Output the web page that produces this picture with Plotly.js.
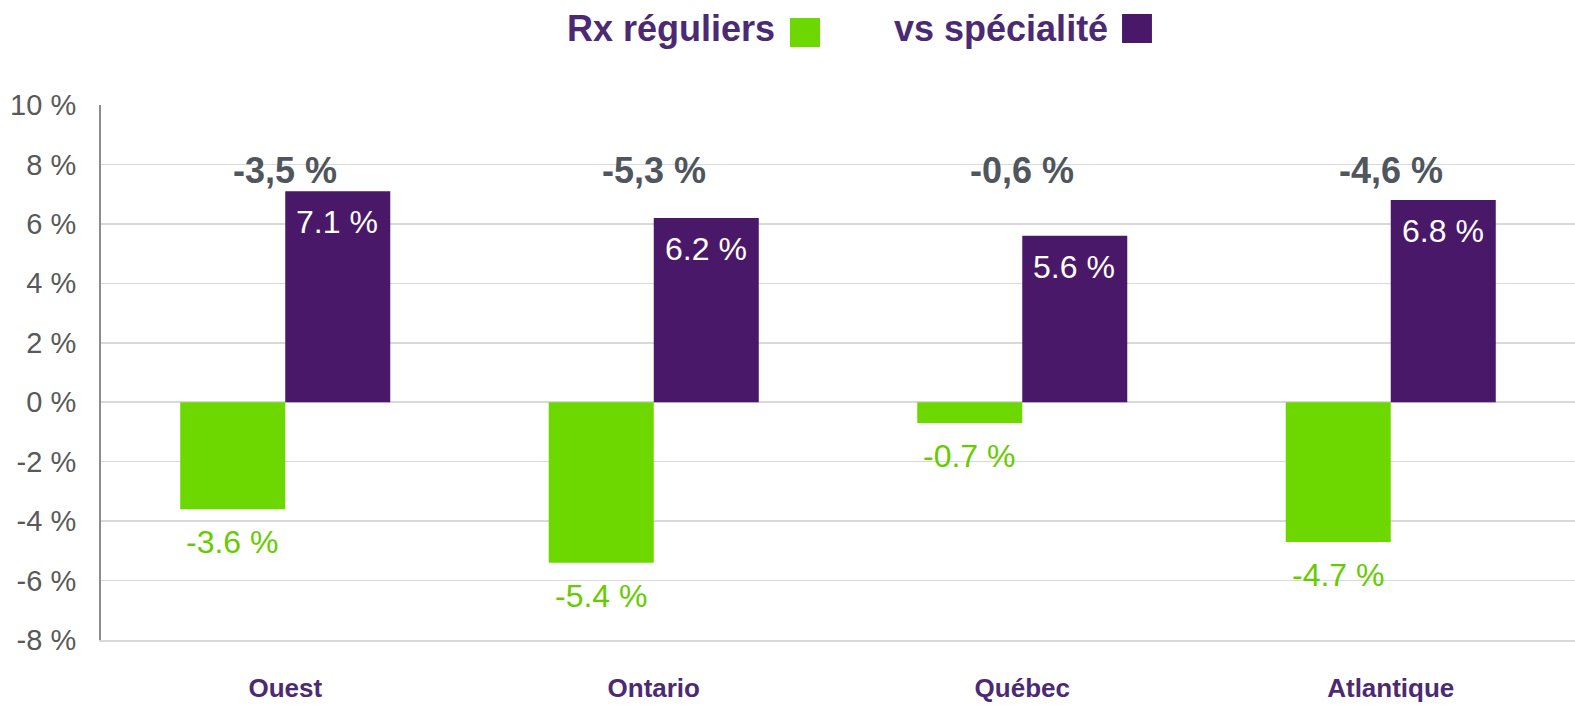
<!DOCTYPE html>
<html>
<head>
<meta charset="utf-8">
<script src="https://cdn.plot.ly/plotly-3.0.1.min.js"></script>
<style>html,body{margin:0;padding:0;background:#fff;}#chart{width:1575px;height:705px;}</style>
</head>
<body>
<div id="chart"></div>
<script>
const regions = ["Ouest", "Ontario", "Québec", "Atlantique"];
const regular = [-3.6, -5.4, -0.7, -4.7];
const specialty = [7.1, 6.2, 5.6, 6.8];
const totals = ["-3,5 %", "-5,3 %", "-0,6 %", "-4,6 %"];
const seriesNames = ["Rx réguliers", "vs spécialité"];
const yTicks = [-8, -6, -4, -2, 0, 2, 4, 6, 8, 10];

const GREEN = "#6CD800";
const PURPLE = "#4A1869";
const TEXT_PURPLE = "#4B2A73";
const FONT = "Liberation Sans, Arial, sans-serif";

const fmt = v => v.toFixed(1) + " %";

const traces = [
  {type: "bar", name: seriesNames[0], x: regions, y: regular,
   marker: {color: GREEN}, hoverinfo: "none"},
  {type: "bar", name: seriesNames[1], x: regions, y: specialty,
   marker: {color: PURPLE}, hoverinfo: "none"}
];

const annotations = [];
regions.forEach((r, i) => {
  annotations.push({x: r, y: regular[i], xref: "x", yref: "y", text: fmt(regular[i]),
    showarrow: false, xshift: -53, yshift: -33, yanchor: "middle",
    font: {family: FONT, size: 32, color: "#66CC00"}});
  annotations.push({x: r, y: specialty[i], xref: "x", yref: "y", text: fmt(specialty[i]),
    showarrow: false, xshift: 52, yshift: -31, yanchor: "middle",
    font: {family: FONT, size: 32, color: "#FFFFFF"}});
  annotations.push({x: r, y: 7.8, xref: "x", yref: "y", text: "<b>" + totals[i] + "</b>",
    showarrow: false, yanchor: "middle",
    font: {family: FONT, size: 36, color: "#4F565D"}});
});
// legend texts
annotations.push({x: 0.4586, y: 1.143, xref: "paper", yref: "paper", xanchor: "right", yanchor: "middle",
  text: "<b>" + seriesNames[0] + "</b>", showarrow: false, font: {family: FONT, size: 36, color: TEXT_PURPLE}});
annotations.push({x: 0.6845, y: 1.143, xref: "paper", yref: "paper", xanchor: "right", yanchor: "middle",
  text: "<b>" + seriesNames[1] + "</b>", showarrow: false, font: {family: FONT, size: 36, color: TEXT_PURPLE}});

const shapes = [
  {type: "rect", xref: "paper", yref: "paper", x0: 0.4674, x1: 0.4878, y0: 1.1084, y1: 1.1626,
   fillcolor: GREEN, line: {width: 0}},
  {type: "rect", xref: "paper", yref: "paper", x0: 0.6927, x1: 0.7130, y0: 1.1159, y1: 1.1701,
   fillcolor: PURPLE, line: {width: 0}}
];

const layout = {
  width: 1575, height: 705,
  margin: {l: 101, r: 0, t: 105, b: 65},
  paper_bgcolor: "#fff", plot_bgcolor: "#fff",
  showlegend: false,
  barmode: "group", bargap: 0.43, bargroupgap: 0,
  font: {family: FONT},
  xaxis: {
    showgrid: false, zeroline: false, showline: true, linecolor: "#D9D9D9", linewidth: 1.5,
    ticks: "", ticklabelstandoff: 24,
    tickfont: {family: FONT, size: 26, color: TEXT_PURPLE, weight: "bold"}
  },
  yaxis: {
    range: [-8, 10], tickvals: yTicks,
    ticktext: yTicks.map(v => v + " %"),
    showgrid: true, gridcolor: "#D9D9D9", gridwidth: 1.5,
    zeroline: false, showline: true, linecolor: "#8C8C8C", linewidth: 2,
    ticks: "", ticklabelstandoff: 17,
    tickfont: {family: FONT, size: 29, color: "#595959"}
  },
  annotations: annotations,
  shapes: shapes
};

Plotly.newPlot("chart", traces, layout, {displayModeBar: false, staticPlot: true});
</script>
</body>
</html>
